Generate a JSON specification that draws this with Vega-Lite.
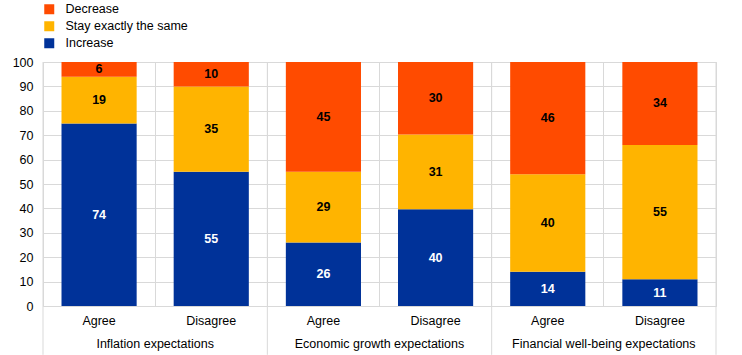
{
  "$schema": "https://vega.github.io/schema/vega-lite/v6.json",
  "width": 673,
  "height": 244,
  "autosize": {"type": "none"},
  "padding": {"left": 43, "top": 62, "right": 26, "bottom": 49},
  "config": {
    "font": "Liberation Sans",
    "view": {"stroke": "#d9d9d9", "strokeWidth": 1},
    "axis": {"labelFont": "Liberation Sans", "labelFontSize": 12.5, "labelColor": "#000000", "gridColor": "#d9d9d9", "domain": false, "ticks": false, "title": null, "labelOverlap": false, "labelLimit": 400},
    "legend": {"labelFont": "Liberation Sans", "labelFontSize": 12.5, "labelColor": "#000000", "labelLimit": 400}
  },
  "datasets": {
    "main": [
      {"group": "Inflation expectations", "stance": "Agree", "answer": "Increase", "value": 74},
      {"group": "Inflation expectations", "stance": "Agree", "answer": "Stay exactly the same", "value": 19},
      {"group": "Inflation expectations", "stance": "Agree", "answer": "Decrease", "value": 6},
      {"group": "Inflation expectations", "stance": "Disagree", "answer": "Increase", "value": 55},
      {"group": "Inflation expectations", "stance": "Disagree", "answer": "Stay exactly the same", "value": 35},
      {"group": "Inflation expectations", "stance": "Disagree", "answer": "Decrease", "value": 10},
      {"group": "Economic growth expectations", "stance": "Agree", "answer": "Increase", "value": 26},
      {"group": "Economic growth expectations", "stance": "Agree", "answer": "Stay exactly the same", "value": 29},
      {"group": "Economic growth expectations", "stance": "Agree", "answer": "Decrease", "value": 45},
      {"group": "Economic growth expectations", "stance": "Disagree", "answer": "Increase", "value": 40},
      {"group": "Economic growth expectations", "stance": "Disagree", "answer": "Stay exactly the same", "value": 31},
      {"group": "Economic growth expectations", "stance": "Disagree", "answer": "Decrease", "value": 30},
      {"group": "Financial well-being expectations", "stance": "Agree", "answer": "Increase", "value": 14},
      {"group": "Financial well-being expectations", "stance": "Agree", "answer": "Stay exactly the same", "value": 40},
      {"group": "Financial well-being expectations", "stance": "Agree", "answer": "Decrease", "value": 46},
      {"group": "Financial well-being expectations", "stance": "Disagree", "answer": "Increase", "value": 11},
      {"group": "Financial well-being expectations", "stance": "Disagree", "answer": "Stay exactly the same", "value": 55},
      {"group": "Financial well-being expectations", "stance": "Disagree", "answer": "Decrease", "value": 34}
    ],
    "groups": [
      {"group": "Inflation expectations"},
      {"group": "Economic growth expectations"},
      {"group": "Financial well-being expectations"}
    ]
  },
  "layer": [
    {
      "data": {"name": "main"},
      "transform": [
        {"calculate": "datum.group + '|' + datum.stance", "as": "bar"},
        {"calculate": "indexof(['Increase','Stay exactly the same','Decrease'], datum.answer)", "as": "ord"},
        {"stack": "value", "groupby": ["bar"], "sort": [{"field": "ord", "order": "ascending"}], "offset": "normalize", "as": ["v0", "v1"]},
        {"calculate": "(datum.v0 + datum.v1) / 2", "as": "mid"}
      ],
      "encoding": {
        "x": {
          "field": "bar", "type": "nominal", "sort": null,
          "scale": {"paddingInner": 0, "paddingOuter": 0},
          "axis": {"orient": "bottom", "grid": true, "bandPosition": 0, "labelExpr": "split(datum.label, '|')[1]", "labelPadding": 8, "labelAngle": 0}
        },
        "y": {"field": "v0", "type": "quantitative", "scale": {"domain": [0, 1]},
          "axis": {"grid": true, "values": [0, 0.1, 0.2, 0.3, 0.4, 0.5, 0.6, 0.7, 0.8, 0.9, 1], "labelExpr": "round(datum.value * 100)", "labelPadding": 10}}
      },
      "layer": [
        {
          "mark": {"type": "bar", "width": {"band": 0.67}},
          "encoding": {
            "y2": {"field": "v1"},
            "color": {
              "field": "answer", "type": "nominal",
              "scale": {"domain": ["Decrease", "Stay exactly the same", "Increase"], "range": ["#FF4B00", "#FFB400", "#003299"]},
              "legend": {"orient": "none", "legendX": 0, "legendY": -59, "title": null, "symbolType": "square", "symbolSize": 100, "symbolStrokeWidth": 0, "rowPadding": 4, "labelOffset": 10}
            }
          }
        },
        {
          "mark": {"type": "text", "fontWeight": "bold", "fontSize": 12.5, "baseline": "middle"},
          "encoding": {
            "y": {"field": "mid", "type": "quantitative", "scale": {"domain": [0, 1]},
              "axis": {"grid": true, "values": [0, 0.1, 0.2, 0.3, 0.4, 0.5, 0.6, 0.7, 0.8, 0.9, 1], "labelExpr": "round(datum.value * 100)", "labelPadding": 10}},
            "text": {"field": "value", "type": "quantitative"},
            "color": {"condition": {"test": "datum.answer === 'Increase'", "value": "#ffffff"}, "value": "#000000"}
          }
        }
      ]
    },
    {
      "data": {"name": "groups"},
      "encoding": {
        "x": {
          "field": "group", "type": "nominal", "sort": null,
          "scale": {"paddingInner": 0, "paddingOuter": 0},
          "axis": {"orient": "bottom", "grid": false, "labelPadding": 31, "labelAngle": 0}
        },
        "y": {"datum": 1, "scale": {"domain": [0, 1]},
          "axis": {"grid": true, "values": [0, 0.1, 0.2, 0.3, 0.4, 0.5, 0.6, 0.7, 0.8, 0.9, 1], "labelExpr": "round(datum.value * 100)", "labelPadding": 10}},
        "y2": {"datum": -0.2}
      },
      "layer": [
        {
          "mark": {"type": "rule", "color": "#d9d9d9", "strokeWidth": 1},
          "encoding": {
            "x": {"field": "group", "type": "nominal", "sort": null, "bandPosition": 0}
          }
        },
        {
          "transform": [{"filter": "datum.group === 'Financial well-being expectations'"}],
          "mark": {"type": "rule", "color": "#d9d9d9", "strokeWidth": 1},
          "encoding": {
            "x": {"field": "group", "type": "nominal", "sort": null, "bandPosition": 1}
          }
        }
      ]
    }
  ],
  "resolve": {"scale": {"x": "independent"}, "axis": {"x": "independent"}}
}
